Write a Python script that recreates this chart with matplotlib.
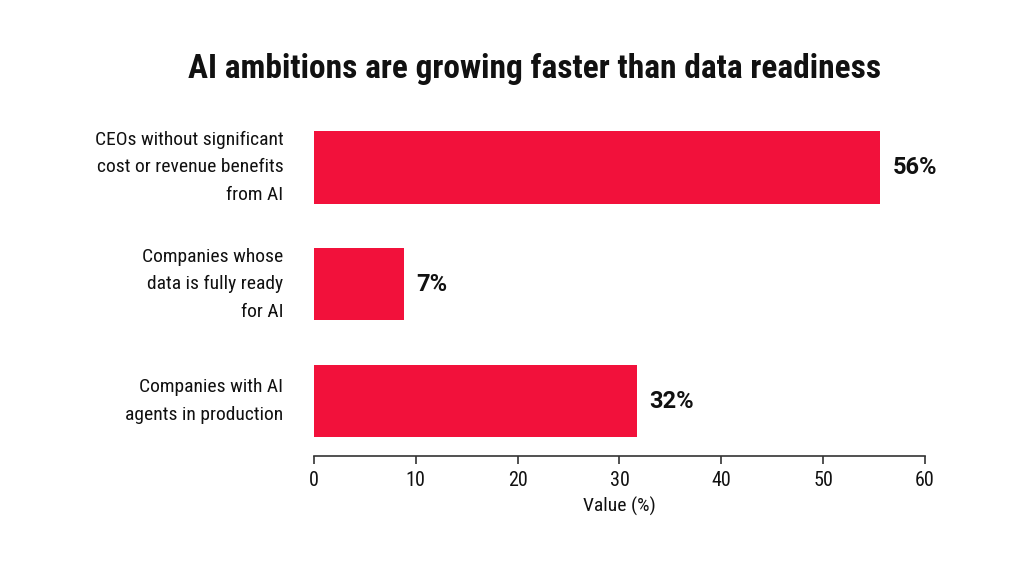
import matplotlib
matplotlib.use("Agg")
import matplotlib.pyplot as plt
from matplotlib import font_manager as fm

categories = [
    "CEOs without significant\ncost or revenue benefits\nfrom AI",
    "Companies whose\ndata is fully ready\nfor AI",
    "Companies with AI\nagents in production",
]
bar_values = [55.6, 8.8, 31.7]
value_labels = ["56%", "7%", "32%"]
xticks = [0, 10, 20, 30, 40, 50, 60]

names = {f.name for f in fm.fontManager.ttflist}
fam = "Roboto"
for cand in ["Roboto Condensed", "Liberation Sans Narrow", "Open Sans Condensed",
             "DejaVu Sans Condensed"]:
    if cand in names:
        fam = cand
        break
plt.rcParams["font.family"] = [fam, "DejaVu Sans"]

fig = plt.figure(figsize=(10.24, 5.76), dpi=100)
fig.patch.set_facecolor("white")
ax = fig.add_axes([0.3066, 0.2083, 0.5967, 0.6024])
ax.set_facecolor("white")

ypos = list(range(len(categories)))
ax.barh(ypos, bar_values, height=0.62, color="#F2113B")
ax.set_xlim(0, 60)
ax.set_ylim(2.47, -0.5)
ax.set_yticks(ypos)
ax.set_yticklabels(categories, fontsize=14, linespacing=1.67, color="#111111",
                   va="center")
ax.tick_params(axis="y", length=0, pad=22)
ax.set_xticks(xticks)
ax.set_xticklabels([str(t) for t in xticks], fontsize=14.5, color="#111111")
ax.tick_params(axis="x", length=6, width=1.2, pad=5, color="#333333")
for s in ["top", "right", "left"]:
    ax.spines[s].set_visible(False)
ax.spines["bottom"].set_linewidth(1.2)
ax.spines["bottom"].set_color("#333333")
ax.set_xlabel("Value (%)", fontsize=14, labelpad=5, color="#111111")

for y, v, lab in zip(ypos, bar_values, value_labels):
    ax.text(v + 1.2, y, lab, va="center", ha="left", fontsize=17,
            fontweight="bold", color="#111111", family=["Roboto", "DejaVu Sans"])

fig.text(0.522, 0.880, "AI ambitions are growing faster than data readiness",
         ha="center", va="center", fontsize=24, fontweight="bold", color="#111111")

fig.savefig("out.png", dpi=100, facecolor="white")
